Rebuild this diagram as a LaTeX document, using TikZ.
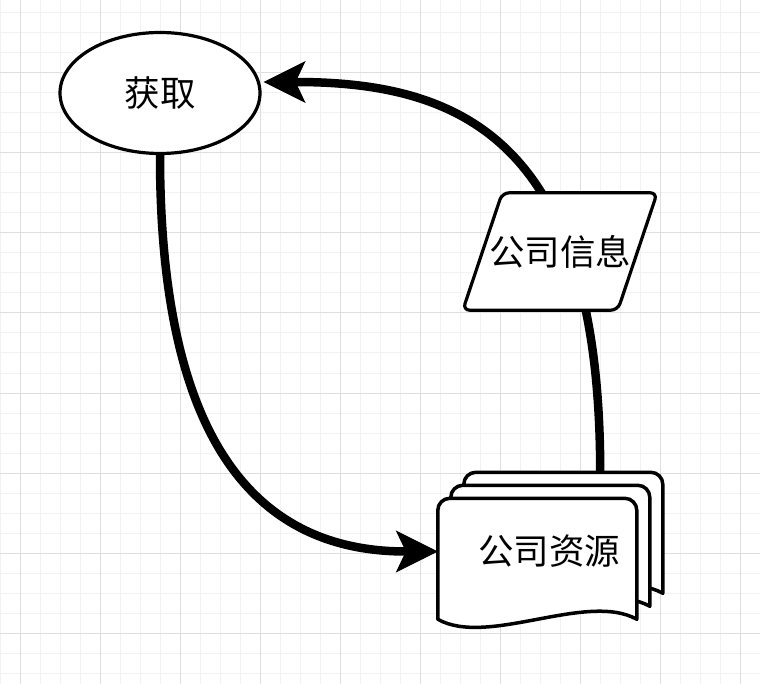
\documentclass[tikz,border=0pt]{standalone}
\usepackage{fontspec}
\usepackage{xcolor}
\usepackage{tikz}
\usetikzlibrary{shapes.geometric, arrows.meta, positioning, backgrounds, calc}
\newfontfamily\cjk{Noto Sans CJK SC}
\definecolor{ink}{HTML}{000000}
\definecolor{gridminor}{HTML}{F2F2F2}
\definecolor{gridmajor}{HTML}{DEDEDE}
\tikzset{
  minorline/.style={draw=gridminor, line width=1pt},
  majorline/.style={draw=gridmajor, line width=1pt},
  lbl/.style      ={font=\cjk\fontsize{35.5}{40}\selectfont, text=ink},
  ellnode/.style  ={ellipse, draw=ink, line width=3.2pt, fill=white,
                    minimum width=200pt, minimum height=121pt, lbl},
  infobox/.style  ={minimum width=194pt, minimum height=117pt, inner sep=0pt, lbl},
  parashape/.style={draw=ink, line width=3.2pt, fill=white, rounded corners=7pt},
  stack/.style    ={minimum width=222pt, minimum height=158pt, inner sep=0pt, lbl},
  docshape/.style ={draw=ink, line width=3.5pt, fill=white, line join=round},
  flowline/.style ={-{Stealth[length=42pt, width=42pt, inset=10pt, line width=1pt]},
                    line width=8.5pt, draw=ink}
}

\begin{document}
\begin{tikzpicture}[x=1pt, y=-1pt]
  \useasboundingbox (0,0) rectangle (760,684);
  \begin{scope}[on background layer]
    \fill[white] (0,0) rectangle (760,684);
    \foreach \x in {0,20,...,760} \draw[minorline] (\x,0) -- (\x,684);
    \foreach \y in {13,33,...,684} \draw[minorline] (0,\y) -- (760,\y);
    \foreach \x in {20,100,...,760} \draw[majorline] (\x,0) -- (\x,684);
    \foreach \y in {73,153,...,684} \draw[majorline] (0,\y) -- (760,\y);
  \end{scope}

  \node[ellnode] (get)  at (160,93)    {获取};
  \node[infobox] (info) at (560,251.5) {};
  \node[stack]   (res)  at (549,551.5) {};

  \draw[parashape] (info.south west) -- ++(155,0) -- (info.north east)
    -- ++(-155,0) -- cycle;
  \node[lbl] at (info) {公司信息};

  \foreach \s in {26,13,0} {
    \begin{scope}[shift={($(res.north west)+(\s,26-\s)$)}]
      \draw[docshape] (0,121) [rounded corners=12pt] -- (0,0) -- (199,0)
        [sharp corners] -- (199,121) .. controls (149,93) and (50,149) .. (0,121) -- cycle;
    \end{scope}
  }
  \node[lbl] at (res) {公司资源};

  \begin{scope}[on background layer]
    \draw[flowline] (get.south) .. controls +(0,277) and +(-188,0) .. (res.west);
    \draw[flowline] ($(res.north east)+(-60,0)$) .. controls +(0,-332) and +(198,0)
      .. ($(get.east)+(2,-11)$);
  \end{scope}
\end{tikzpicture}
\end{document}
